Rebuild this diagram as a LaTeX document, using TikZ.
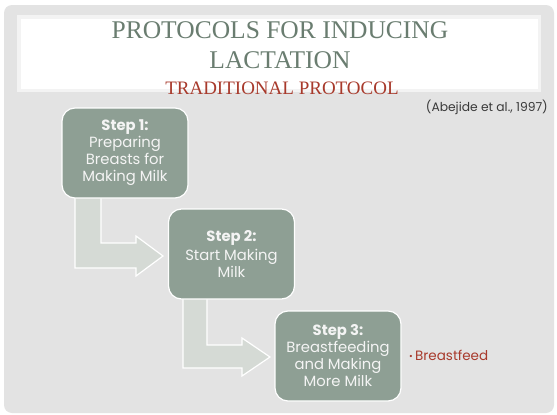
\documentclass[tikz,border=0pt]{standalone}
\usepackage{fontspec}
\setmainfont{Poppins}
\newfontfamily\titlefont{Liberation Serif}
\definecolor{framegrey}{HTML}{E3E3E3}
\definecolor{bandedge}{HTML}{F3F3F3}
\definecolor{boxfill}{HTML}{8E9F94}
\definecolor{arrowfill}{HTML}{D5DAD5}
\definecolor{titlegreen}{HTML}{6A7D70}
\definecolor{titlered}{HTML}{A83A2C}
\definecolor{citegrey}{HTML}{3A3A3A}
\definecolor{boxtext}{HTML}{F4F4F4}
\tikzset{
  stepbox/.style={draw=white, line width=1.2pt, fill=boxfill, rounded corners=13pt,
    minimum width=126pt, minimum height=90pt, align=center, text=boxtext,
    font=\fontsize{14.8}{17}\selectfont, inner sep=1pt},
  bentarrow/.style={draw=white, line width=1.2pt, fill=arrowfill, line join=miter},
  titletext/.style={font=\titlefont\fontsize{25.5}{28}\selectfont, text=titlegreen, anchor=base, inner sep=0pt},
}
\begin{document}
\begin{tikzpicture}[x=1pt,y=-1pt]
\useasboundingbox (0,0) rectangle (557,415);
\fill[white] (0,0) rectangle (557,415);
\fill[framegrey, rounded corners=8pt] (4,5) rectangle (554,413);
\fill[bandedge] (17,15) rectangle (541,92);
\fill[white] (21,19) rectangle (538,89);

\node[titletext] (t1) at (280,38) {PROTOCOLS FOR INDUCING};
\node[titletext] (t2) at (280,68) {LACTATION};
\node[titletext, text=titlered, font=\titlefont\fontsize{19}{22}\selectfont] (t3) at (282,94) {TRADITIONAL PROTOCOL};
\node[anchor=base east, inner sep=0pt, text=citegrey, font=\fontsize{12.3}{14}\selectfont] (cite) at (548,111) {(Abejide et al., 1997)};

% arrows (drawn first, behind boxes)
\coordinate (a1top) at (75,197);
\draw[bentarrow] (a1top) -- (75,268) -- (136,268) -- (136,276) -- (163,256) -- (136,236) -- (136,243) -- (101,243) -- (101,197);
\coordinate (a2top) at (183,298);
\draw[bentarrow] (a2top) -- (183,368) -- (242,368) -- (242,376) -- (270,357) -- (242,338) -- (242,345) -- (207,345) -- (207,298);

\node[stepbox] (s1) at (125,153) {\textbf{Step 1:}\\Preparing\\Breasts for\\Making Milk};
\node[stepbox] (s2) at (231.5,254) {\textbf{Step 2:}\\[2pt]Start Making\\Milk};
\node[stepbox] (s3) at (338,356) {\textbf{Step 3:}\\Breastfeeding\\and Making\\More Milk};

\node[anchor=west, inner sep=0pt, text=titlered, font=\fontsize{13.5}{15}\selectfont] (bf) at (409,355) {{\fontsize{9}{10}\selectfont\raisebox{1pt}{•}}\,Breastfeed};
\end{tikzpicture}
\end{document}
